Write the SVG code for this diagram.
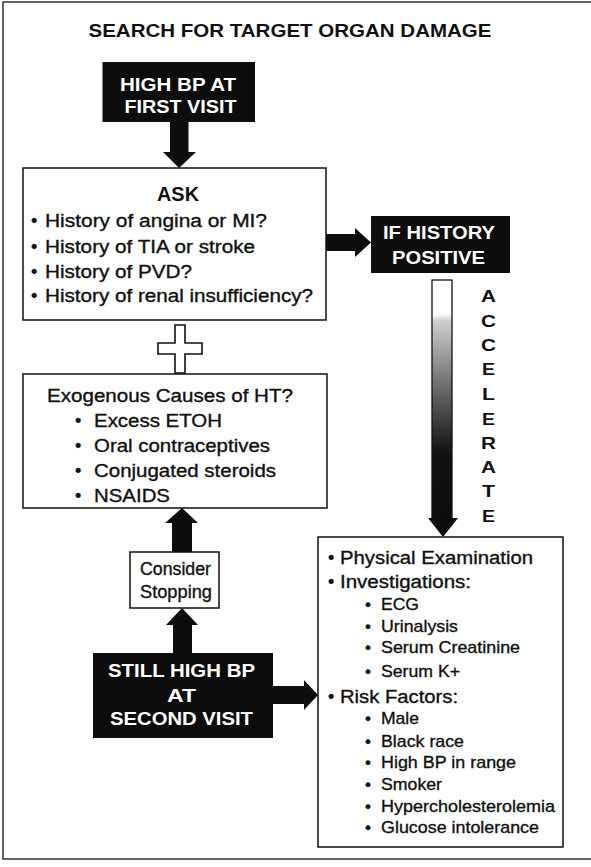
<svg xmlns="http://www.w3.org/2000/svg" width="591" height="867" viewBox="0 0 591 867">
<style>
text{font-family:"Liberation Sans",Arial,"DejaVu Sans",sans-serif;fill:#111;}
.t{font-size:18px;stroke:#111;stroke-width:0.35;}
.s{font-size:17px;stroke:#111;stroke-width:0.35;}
.b{font-weight:bold;}
.w{fill:#fff;font-weight:bold;font-size:18.5px;}
.box{fill:#fff;stroke:#111;stroke-width:1.5;}
.dark{fill:#0d0d0d;}
.ar{fill:#0d0d0d;}
.acc{font-weight:bold;font-size:16.5px;}
</style>
<defs>
<linearGradient id="grad" x1="0" y1="280" x2="0" y2="520" gradientUnits="userSpaceOnUse">
<stop offset="0" stop-color="#fff"/>
<stop offset="0.14" stop-color="#fff"/>
<stop offset="0.17" stop-color="#cfcfcf"/>
<stop offset="0.45" stop-color="#6a6a6a"/>
<stop offset="0.72" stop-color="#111"/>
<stop offset="1" stop-color="#0d0d0d"/>
</linearGradient>
</defs>
<rect x="0" y="0" width="591" height="867" fill="#fff"/>
<rect x="3" y="2" width="592" height="857" fill="none" stroke="#333" stroke-width="1.5"/>
<text id="title" x="88.5" y="37" class="b" font-size="18.5" textLength="403" lengthAdjust="spacingAndGlyphs">SEARCH FOR TARGET ORGAN DAMAGE</text>

<g id="connectors">
<polygon class="ar" points="170,121 188.5,121 188.5,152 196,152 179,168 163,152 170,152"/>
<polygon class="ar" points="326,234 355,234 355,228 371,242.5 355,257 355,251 326,251"/>
<rect x="432" y="280" width="20" height="240" fill="url(#grad)" stroke="#111" stroke-width="1.3"/>
<polygon class="ar" points="428,518 458,518 443,537"/>
<path d="M175,325 H185 V343 H202 V354 H185 V373 H175 V354 H158 V343 H175 Z" fill="#fff" stroke="#111" stroke-width="1.6"/>
<polygon class="ar" points="172,552 192,552 192,523 198,523 182,508 165,523 172,523"/>
<polygon class="ar" points="173,653 192,653 192,625 198,625 182,608 166,625 173,625"/>
<polygon class="ar" points="273,686 304,686 304,680 318,695 304,710 304,704 273,704"/>
</g>

<g id="first-visit">
<rect class="dark" x="102.5" y="62" width="152.5" height="60"/>
<text class="w" x="120" y="91" textLength="116" lengthAdjust="spacingAndGlyphs">HIGH BP AT</text>
<text class="w" x="124.5" y="113" textLength="112" lengthAdjust="spacingAndGlyphs">FIRST VISIT</text>
</g>

<g id="ask">
<rect class="box" x="23" y="168" width="303" height="152"/>
<text class="b" x="157" y="201" font-size="19.5" textLength="42" lengthAdjust="spacingAndGlyphs">ASK</text>
<text class="t" x="31" y="227">•</text>
<text class="t" x="45" y="227" textLength="222" lengthAdjust="spacingAndGlyphs">History of angina or MI?</text>
<text class="t" x="31" y="253">•</text>
<text class="t" x="45" y="253" textLength="210" lengthAdjust="spacingAndGlyphs">History of TIA or stroke</text>
<text class="t" x="31" y="278">•</text>
<text class="t" x="45" y="278" textLength="147" lengthAdjust="spacingAndGlyphs">History of PVD?</text>
<text class="t" x="31" y="302">•</text>
<text class="t" x="45" y="302" textLength="268" lengthAdjust="spacingAndGlyphs">History of renal insufficiency?</text>
</g>

<g id="if-history">
<rect class="dark" x="371" y="216" width="139" height="57"/>
<text class="w" x="383" y="239" textLength="112" lengthAdjust="spacingAndGlyphs">IF HISTORY</text>
<text class="w" x="392" y="264" textLength="93" lengthAdjust="spacingAndGlyphs">POSITIVE</text>
</g>

<g id="accelerate">
<text class="acc" x="481" y="302" textLength="15" lengthAdjust="spacingAndGlyphs">A</text>
<text class="acc" x="481" y="327" textLength="15" lengthAdjust="spacingAndGlyphs">C</text>
<text class="acc" x="481" y="351" textLength="15" lengthAdjust="spacingAndGlyphs">C</text>
<text class="acc" x="482" y="375" textLength="13" lengthAdjust="spacingAndGlyphs">E</text>
<text class="acc" x="482" y="400" textLength="13" lengthAdjust="spacingAndGlyphs">L</text>
<text class="acc" x="482" y="425" textLength="13" lengthAdjust="spacingAndGlyphs">E</text>
<text class="acc" x="481" y="449" textLength="15" lengthAdjust="spacingAndGlyphs">R</text>
<text class="acc" x="481" y="473" textLength="15" lengthAdjust="spacingAndGlyphs">A</text>
<text class="acc" x="482" y="497" textLength="13" lengthAdjust="spacingAndGlyphs">T</text>
<text class="acc" x="482" y="522" textLength="13" lengthAdjust="spacingAndGlyphs">E</text>
</g>

<g id="exogenous">
<rect class="box" x="23" y="374" width="304" height="134"/>
<text class="t" x="47" y="402" textLength="246" lengthAdjust="spacingAndGlyphs">Exogenous Causes of HT?</text>
<text class="t" x="75" y="427">•</text>
<text class="t" x="94" y="427" textLength="128" lengthAdjust="spacingAndGlyphs">Excess ETOH</text>
<text class="t" x="75" y="452">•</text>
<text class="t" x="94" y="452" textLength="176" lengthAdjust="spacingAndGlyphs">Oral contraceptives</text>
<text class="t" x="75" y="477">•</text>
<text class="t" x="94" y="477" textLength="182" lengthAdjust="spacingAndGlyphs">Conjugated steroids</text>
<text class="t" x="75" y="502">•</text>
<text class="t" x="94" y="502" textLength="76" lengthAdjust="spacingAndGlyphs">NSAIDS</text>
</g>

<g id="consider">
<rect class="box" x="130" y="552" width="89" height="56"/>
<text class="t" x="140" y="575" textLength="71" lengthAdjust="spacingAndGlyphs">Consider</text>
<text class="t" x="140" y="598" textLength="72" lengthAdjust="spacingAndGlyphs">Stopping</text>
</g>

<g id="second-visit">
<rect class="dark" x="93" y="653" width="180" height="85"/>
<text class="w" x="108" y="677" font-size="19" textLength="147" lengthAdjust="spacingAndGlyphs">STILL HIGH BP</text>
<text class="w" x="167" y="702" font-size="19" textLength="29" lengthAdjust="spacingAndGlyphs">AT</text>
<text class="w" x="110" y="725" font-size="19" textLength="143" lengthAdjust="spacingAndGlyphs">SECOND VISIT</text>
</g>

<g id="workup">
<rect class="box" x="318" y="537" width="245" height="310"/>
<text class="t" x="328" y="564">•</text>
<text class="t" font-size="19" x="340" y="564" textLength="193" lengthAdjust="spacingAndGlyphs">Physical Examination</text>
<text class="t" x="328" y="588">•</text>
<text class="t" font-size="19" x="340" y="588" textLength="131" lengthAdjust="spacingAndGlyphs">Investigations:</text>
<text class="s" x="365" y="610">•</text>
<text class="s" x="381" y="610" textLength="38" lengthAdjust="spacingAndGlyphs">ECG</text>
<text class="s" x="365" y="632">•</text>
<text class="s" x="381" y="632" textLength="77" lengthAdjust="spacingAndGlyphs">Urinalysis</text>
<text class="s" x="365" y="653">•</text>
<text class="s" x="381" y="653" textLength="139" lengthAdjust="spacingAndGlyphs">Serum Creatinine</text>
<text class="s" x="365" y="677">•</text>
<text class="s" x="381" y="677" textLength="79" lengthAdjust="spacingAndGlyphs">Serum K+</text>
<text class="t" x="328" y="703">•</text>
<text class="t" font-size="19" x="340" y="703" textLength="118" lengthAdjust="spacingAndGlyphs">Risk Factors:</text>
<text class="s" x="365" y="724">•</text>
<text class="s" x="381" y="724" textLength="38" lengthAdjust="spacingAndGlyphs">Male</text>
<text class="s" x="365" y="747">•</text>
<text class="s" x="381" y="747" textLength="83" lengthAdjust="spacingAndGlyphs">Black race</text>
<text class="s" x="365" y="768">•</text>
<text class="s" x="381" y="768" textLength="135" lengthAdjust="spacingAndGlyphs">High BP in range</text>
<text class="s" x="365" y="790">•</text>
<text class="s" x="381" y="790" textLength="61" lengthAdjust="spacingAndGlyphs">Smoker</text>
<text class="s" x="365" y="812">•</text>
<text class="s" x="381" y="812" textLength="174" lengthAdjust="spacingAndGlyphs">Hypercholesterolemia</text>
<text class="s" x="365" y="833">•</text>
<text class="s" x="381" y="833" textLength="158" lengthAdjust="spacingAndGlyphs">Glucose intolerance</text>
</g>
</svg>
